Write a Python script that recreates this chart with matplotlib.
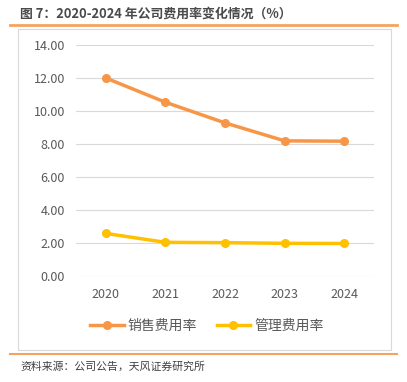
import matplotlib
matplotlib.use("Agg")
import matplotlib.pyplot as plt
from matplotlib.patches import Rectangle
from matplotlib.lines import Line2D

plt.rcParams['font.family'] = ['Noto Sans CJK SC', 'DejaVu Sans']

years = ["2020", "2021", "2022", "2023", "2024"]
sales_rate = [12.00, 10.53, 9.28, 8.19, 8.17]
admin_rate = [2.58, 2.04, 2.02, 1.98, 1.97]
series_names = ["销售费用率", "管理费用率"]

orange = "#F79646"
gold = "#FFC000"
grey_text = "#595959"

fig = plt.figure(figsize=(4.07, 3.82), dpi=100)

# title and header rule
fig.text(20/407, 1 - 14/382, "图 7：2020-2024 年公司费用率变化情况（%）",
         fontsize=9.3, fontweight="bold", color="#4A4A4A", va="center", ha="left")
fig.add_artist(Line2D([10/407, 397/407], [1 - 24.5/382, 1 - 24.5/382],
                      color="#F4A460", lw=2))

# chart frame
fig.add_artist(Rectangle((18/407, 1 - 350/382), 373/407, 321/382,
                         transform=fig.transFigure, fill=False,
                         edgecolor="#D9D9D9", lw=0.8))

ax = fig.add_axes([76/407, 1 - 276/382, 298/407, 231/382])
x = range(len(years))
ax.plot(x, sales_rate, color=orange, lw=2.5, marker="o", ms=5.5, label=series_names[0])
ax.plot(x, admin_rate, color=gold, lw=2.5, marker="o", ms=5.5, label=series_names[1])

ax.set_xlim(-0.5, len(years) - 0.5)
ax.set_ylim(0, 14)
ax.set_yticks(range(0, 15, 2))
ax.set_yticklabels(["%.2f" % v for v in range(0, 15, 2)])
ax.set_xticks(list(x))
ax.set_xticklabels(years)
ax.grid(axis="y", color="#D9D9D9", lw=0.8)
ax.set_axisbelow(True)
for s in ax.spines.values():
    s.set_visible(False)
ax.tick_params(length=0, labelsize=9, colors=grey_text, pad=8)
ax.tick_params(axis="x", pad=9)

ax.legend(loc="center", bbox_to_anchor=(207/407, 1 - 326/382),
          bbox_transform=fig.transFigure, ncol=2, frameon=False,
          fontsize=10, labelcolor=grey_text, handlelength=2.4,
          handletextpad=0.3, columnspacing=1.4)

# source + bottom rule
fig.add_artist(Line2D([10/407, 397/407], [1 - 353.5/382, 1 - 353.5/382],
                      color="#F4A460", lw=1.5))
fig.text(20/407, 1 - 367/382, "资料来源：公司公告，天风证券研究所",
         fontsize=7.8, color="#404040", va="center", ha="left")

fig.savefig("out.png", dpi=100)
